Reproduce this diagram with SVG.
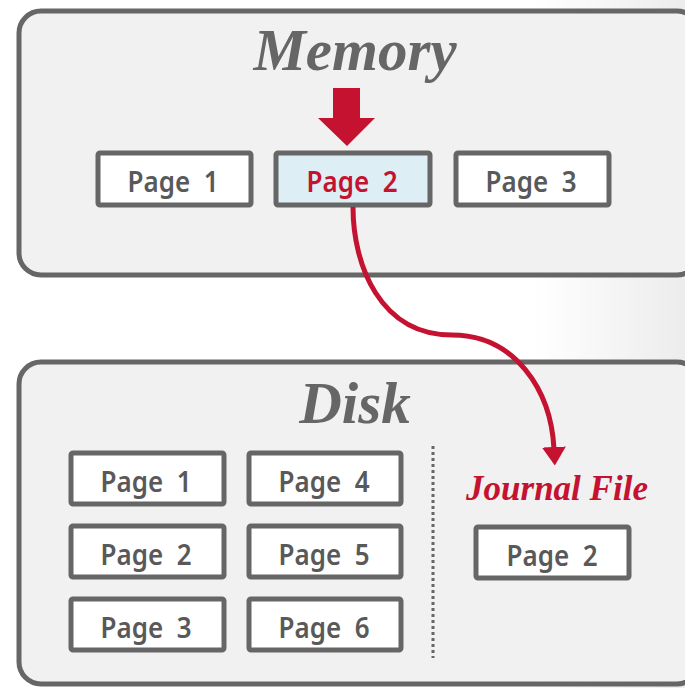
<svg xmlns="http://www.w3.org/2000/svg" width="685" height="688" viewBox="0 0 685 688">
<defs>
<linearGradient id="bg" x1="0" y1="0" x2="1" y2="0">
<stop offset="0" stop-color="#ffffff"/>
<stop offset="0.78" stop-color="#ffffff"/>
<stop offset="1" stop-color="#ececec"/>
</linearGradient>
<marker id="ah" markerWidth="5" markerHeight="5" refX="0.4" refY="2.4" orient="auto" markerUnits="strokeWidth">
<path d="M0,0 L3.7,2.4 L0,4.8 Z" fill="#c41230"/>
</marker>
<style>
.box{fill:#f1f1f1;stroke:#666;stroke-width:5}
.pg{fill:#fff;stroke:#666;stroke-width:5}
.pgh{fill:#ddeef4;stroke:#666;stroke-width:5}
.pt{font-family:"Noto Sans","Open Sans",sans-serif;font-weight:600;font-size:29px;fill:#595959;text-anchor:middle;white-space:pre}
.title{font-family:"Liberation Serif",serif;font-style:italic;font-weight:bold;font-size:59px;fill:#666;text-anchor:middle}
.red{fill:#c41230}
</style>
</defs>
<rect x="0" y="0" width="685" height="688" fill="url(#bg)"/>
<g id="memory">
<rect class="box" x="19" y="11" width="680" height="264" rx="22"/>
<text class="title" x="355" y="70">Memory</text>
</g>
<g id="mem-page1"><rect class="pg" x="98" y="153" width="153" height="52" rx="2"/><text class="pt" x="173" y="192" textLength="91" lengthAdjust="spacingAndGlyphs" xml:space="preserve">Page  1</text></g>
<g id="mem-page2"><rect class="pgh" x="276" y="153" width="154" height="52" rx="2"/><text class="pt red" x="352" y="192" textLength="91" lengthAdjust="spacingAndGlyphs" xml:space="preserve">Page  2</text></g>
<g id="mem-page3"><rect class="pg" x="456" y="153" width="153" height="52" rx="2"/><text class="pt" x="531" y="192" textLength="91" lengthAdjust="spacingAndGlyphs" xml:space="preserve">Page  3</text></g>
<g id="disk">
<rect class="box" x="19" y="362" width="680" height="322" rx="22"/>
<text class="title" x="355" y="423">Disk</text>
<line x1="433" y1="446" x2="433" y2="658" stroke="#666" stroke-width="3" stroke-dasharray="3,3"/>
</g>
<g id="disk-page1"><rect class="pg" x="71" y="453" width="153" height="51" rx="2"/><text class="pt" x="146" y="492" textLength="91" lengthAdjust="spacingAndGlyphs" xml:space="preserve">Page  1</text></g>
<g id="disk-page2"><rect class="pg" x="71" y="526" width="153" height="51" rx="2"/><text class="pt" x="146" y="565" textLength="91" lengthAdjust="spacingAndGlyphs" xml:space="preserve">Page  2</text></g>
<g id="disk-page3"><rect class="pg" x="71" y="599" width="153" height="51" rx="2"/><text class="pt" x="146" y="638" textLength="91" lengthAdjust="spacingAndGlyphs" xml:space="preserve">Page  3</text></g>
<g id="disk-page4"><rect class="pg" x="249" y="453" width="152" height="51" rx="2"/><text class="pt" x="324" y="492" textLength="91" lengthAdjust="spacingAndGlyphs" xml:space="preserve">Page  4</text></g>
<g id="disk-page5"><rect class="pg" x="249" y="526" width="152" height="51" rx="2"/><text class="pt" x="324" y="565" textLength="91" lengthAdjust="spacingAndGlyphs" xml:space="preserve">Page  5</text></g>
<g id="disk-page6"><rect class="pg" x="249" y="599" width="152" height="51" rx="2"/><text class="pt" x="324" y="638" textLength="91" lengthAdjust="spacingAndGlyphs" xml:space="preserve">Page  6</text></g>
<g id="journal">
<text x="557" y="500" font-family="Liberation Serif,serif" font-style="italic" font-weight="bold" font-size="35" fill="#c41230" text-anchor="middle">Journal File</text>
</g>
<g id="journal-page2"><rect class="pg" x="476" y="527" width="153" height="51" rx="2"/><text class="pt" x="552" y="566" textLength="91" lengthAdjust="spacingAndGlyphs" xml:space="preserve">Page  2</text></g>
<g id="connectors">
<path d="M333,88 H360 V118 H375 L347,146 L318,118 H333 Z" fill="#c41230"/>
<path d="M353,207 C353,265 380,335 452,335 C515,335 551,390 554,449" fill="none" stroke="#c41230" stroke-width="5" marker-end="url(#ah)"/>
</g>
</svg>
